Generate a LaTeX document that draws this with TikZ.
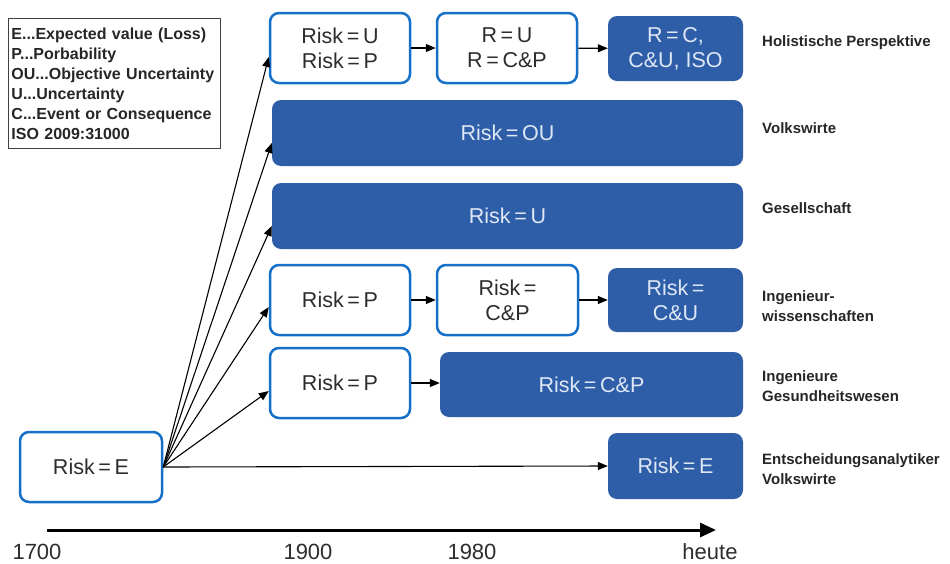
\documentclass[tikz,border=0pt]{standalone}
\usepackage{fontspec}
\setmainfont{Liberation Sans}
\usetikzlibrary{arrows.meta,calc}
\definecolor{boxblue}{RGB}{47,94,168}
\definecolor{edgeblue}{RGB}{22,112,200}
\definecolor{lighttext}{RGB}{222,231,245}
\definecolor{darktext}{RGB}{45,45,45}
\newcommand{\eqsign}{\hspace{0.17em}=\hspace{0.17em}}
\begin{document}
\begin{tikzpicture}[x=1pt,y=-1pt,
  whitebox/.style={draw=edgeblue, line width=2.5pt, rounded corners=9pt, fill=white, text=darktext,
    font=\fontsize{21.5}{25}\selectfont, align=center, inner sep=0pt},
  bluebox/.style={fill=boxblue, rounded corners=9pt, text=lighttext,
    font=\fontsize{21.5}{25}\selectfont, align=center, inner sep=0pt},
  conn/.style={-{Triangle[length=10pt,width=8pt]}, line width=1.1pt, black},
  lbl/.style={anchor=west, align=left, font=\bfseries\fontsize{15}{19.5}\selectfont, text=black!85, inner sep=0pt},
  yr/.style={font=\fontsize{22}{26}\selectfont, text=darktext, inner sep=0pt}]
\useasboundingbox (0,0) rectangle (950,563);

% legend
\node[draw=black!75, line width=1pt, anchor=north west, align=left, text width=206pt,
  minimum height=130pt, inner sep=3pt, font=\bfseries\fontsize{16}{20}\selectfont, text=black!85] (legend) at (8,18)
  {E...Expected value (Loss)\\P...Porbability\\OU...Objective Uncertainty\\U...Uncertainty\\C...Event or Consequence\\ISO 2009:31000};

% boxes
\node[whitebox, minimum width=142pt, minimum height=70pt] (e0) at (91,467) {Risk\eqsign E};

\node[whitebox, minimum width=140pt, minimum height=70pt] (a1) at (340,48) {Risk\eqsign U\\Risk\eqsign P};
\node[whitebox, minimum width=140pt, minimum height=70pt] (b1) at (507,48) {R\eqsign U\\R\eqsign C\&P};
\node[bluebox, minimum width=135pt, minimum height=65pt] (c1) at (675.5,48.5) {R\eqsign C,\\C\&U, ISO};

\node[bluebox, minimum width=471pt, minimum height=66pt] (ou) at (507.5,133) {Risk\eqsign OU};
\node[bluebox, minimum width=471pt, minimum height=66pt] (u) at (507.5,216) {Risk\eqsign U};

\node[whitebox, minimum width=140pt, minimum height=70pt] (p4) at (340,300) {Risk\eqsign P};
\node[whitebox, minimum width=141pt, minimum height=70pt] (cp4) at (507.5,300) {Risk\eqsign\\C\&P};
\node[bluebox, minimum width=135pt, minimum height=64pt] (cu4) at (675.5,300) {Risk\eqsign\\C\&U};

\node[whitebox, minimum width=140pt, minimum height=70pt] (p5) at (340,383) {Risk\eqsign P};
\node[bluebox, minimum width=303pt, minimum height=65pt] (cp5) at (591.5,384.5) {Risk\eqsign C\&P};

\node[bluebox, minimum width=135pt, minimum height=66pt] (e6) at (675.5,466) {Risk\eqsign E};

% right labels
\node[lbl] (l1) at (762,43) {Holistische Perspektive};
\node[lbl] (l2) at (762,128) {Volkswirte};
\node[lbl] (l3) at (762,208) {Gesellschaft};
\node[lbl] (l4) at (762,306) {Ingenieur-\\wissenschaften};
\node[lbl] (l5) at (762,386) {Ingenieure\\Gesundheitswesen};
\node[lbl] (l6) at (762,469) {Entscheidungsanalytiker\\Volkswirte};

% fan connectors
\coordinate (src) at (e0.east);
\draw[conn] (src) -- ([yshift=-9pt]a1.west);
\draw[conn] (src) -- ([yshift=-10pt]ou.west);
\draw[conn] (src) -- ([yshift=-10pt]u.west);
\draw[conn] (src) -- ([yshift=-7pt]p4.west);
\draw[conn] (src) -- ([yshift=-8pt]p5.west);
\draw[conn] (src) -- (e6.west);

% row connectors
\draw[conn] (a1) -- (b1);
\draw[conn] (b1) -- (c1);
\draw[conn] (p4) -- (cp4);
\draw[conn] (cp4) -- (cu4);
\draw[conn] (p5.east) -- (p5.east -| cp5.west);

% time axis
\coordinate (ax0) at (47,530);
\coordinate (ax1) at (716,530);
\draw[line width=3pt, -{Triangle[length=16pt,width=14pt]}] (ax0) -- (ax1);
\node[yr] (y1700) at (37,552) {1700};
\node[yr] (y1900) at (308,552) {1900};
\node[yr] (y1980) at (472,552) {1980};
\node[yr] (yheute) at (710,552) {heute};
\end{tikzpicture}
\end{document}
